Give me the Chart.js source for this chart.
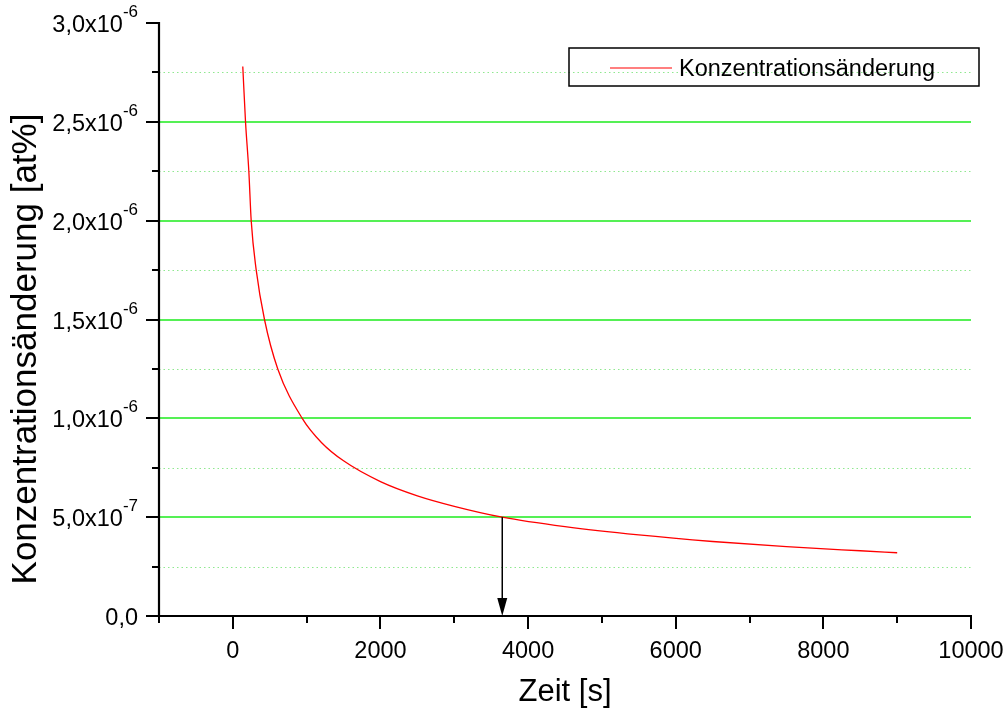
<!DOCTYPE html>
<html>
<head>
<meta charset="utf-8">
<script src="https://cdn.jsdelivr.net/npm/chart.js@4/dist/chart.umd.min.js"></script>
<style>
  html, body { margin: 0; padding: 0; background: #fff; }
  #wrap { width: 1005px; height: 711px; position: relative; }
</style>
</head>
<body>
<div id="wrap"><canvas id="chart"></canvas></div>
<script>
// -------------------------
// Data
// -------------------------
const SERIES_LABEL = "Konzentrationsänderung";
const Y_TITLE = "Konzentrationsänderung [at%]";
const zeit = [135, 172, 217, 249, 317, 429, 609, 940, 1200, 1500, 2000, 2500, 3000, 3650, 4500, 5500, 6500, 7500, 8500, 9000];
const konz = [2.78e-6, 2.50e-6, 2.25e-6, 2.00e-6, 1.75e-6, 1.50e-6, 1.25e-6, 1.00e-6, 0.878e-6, 0.785e-6,
              0.680e-6, 0.608e-6, 0.555e-6, 0.500e-6, 0.452e-6, 0.410e-6, 0.377e-6, 0.351e-6, 0.330e-6, 0.320e-6];

const xMajor = [0, 2000, 4000, 6000, 8000, 10000];
const xMinor = [-1000, 1000, 3000, 5000, 7000, 9000];
const yMajor = [0, 5e-7, 1e-6, 1.5e-6, 2e-6, 2.5e-6, 3e-6];
const yMinor = [2.5e-7, 7.5e-7, 1.25e-6, 1.75e-6, 2.25e-6, 2.75e-6];

// arrow marking the 5,0x10^-7 crossing
const arrowX = 3650;
const arrowFrom = 5e-7;
const arrowTo = 0;

// -------------------------
// Styles
// -------------------------
const FONT = '"Liberation Sans", Arial, sans-serif';
const GRID_MAJOR = "#55f055";
const GRID_MINOR = "#8fe88f";

function yLabelParts(v) {
  if (v === 0) return { base: "0,0", exp: "" };
  const e = Math.floor(Math.log10(v) + 1e-9);
  const m = (v / Math.pow(10, e)).toFixed(1).replace(".", ",");
  return { base: m + "x10", exp: String(e) };
}

const axesPlugin = {
  id: "originAxes",
  beforeDatasetsDraw(chart) {
    const { ctx, chartArea: a, scales: { y } } = chart;
    ctx.save();
    // minor dotted grid
    ctx.strokeStyle = GRID_MINOR;
    ctx.lineWidth = 1;
    ctx.setLineDash([1.5, 3]);
    yMinor.forEach(v => {
      const py = Math.round(y.getPixelForValue(v)) + 0.5;
      ctx.beginPath(); ctx.moveTo(a.left, py); ctx.lineTo(a.right, py); ctx.stroke();
    });
    // major solid grid
    ctx.setLineDash([]);
    ctx.strokeStyle = GRID_MAJOR;
    ctx.lineWidth = 2;
    yMajor.forEach(v => {
      if (v === 0 || v === 3e-6) return;
      const py = Math.round(y.getPixelForValue(v));
      ctx.beginPath(); ctx.moveTo(a.left, py); ctx.lineTo(a.right, py); ctx.stroke();
    });
    ctx.restore();
  },
  afterDatasetsDraw(chart) {
    const { ctx, chartArea: a, scales: { x, y } } = chart;
    ctx.save();
    ctx.strokeStyle = "#000";
    ctx.fillStyle = "#000";

    // arrow
    const ax = x.getPixelForValue(arrowX);
    const ay0 = y.getPixelForValue(arrowFrom);
    const ay1 = y.getPixelForValue(arrowTo);
    ctx.lineWidth = 1.5;
    ctx.beginPath(); ctx.moveTo(ax, ay0); ctx.lineTo(ax, ay1 - 16); ctx.stroke();
    ctx.beginPath();
    ctx.moveTo(ax - 5, ay1 - 18); ctx.lineTo(ax + 5, ay1 - 18); ctx.lineTo(ax, ay1);
    ctx.closePath(); ctx.fill();

    // axis lines
    ctx.lineWidth = 2.2;
    const bx = Math.round(x.getPixelForValue(-1000));
    const by = Math.round(y.getPixelForValue(0));
    ctx.beginPath();
    ctx.moveTo(bx, y.getPixelForValue(3e-6) - 1);
    ctx.lineTo(bx, by);
    ctx.lineTo(x.getPixelForValue(10000) + 1, by);
    ctx.stroke();

    // ticks
    ctx.lineWidth = 2;
    yMajor.forEach(v => {
      const py = Math.round(y.getPixelForValue(v));
      ctx.beginPath(); ctx.moveTo(bx - 13, py); ctx.lineTo(bx, py); ctx.stroke();
    });
    yMinor.forEach(v => {
      const py = Math.round(y.getPixelForValue(v));
      ctx.beginPath(); ctx.moveTo(bx - 7, py); ctx.lineTo(bx, py); ctx.stroke();
    });
    xMajor.forEach(v => {
      const px = Math.round(x.getPixelForValue(v));
      ctx.beginPath(); ctx.moveTo(px, by); ctx.lineTo(px, by + 13); ctx.stroke();
    });
    xMinor.forEach(v => {
      const px = Math.round(x.getPixelForValue(v));
      ctx.beginPath(); ctx.moveTo(px, by); ctx.lineTo(px, by + 7); ctx.stroke();
    });

    // y tick labels with superscript exponent
    const mainFont = "23.5px " + FONT;
    const supFont = "17px " + FONT;
    ctx.textBaseline = "alphabetic";
    ctx.textAlign = "left";
    yMajor.forEach(v => {
      const py = y.getPixelForValue(v);
      const p = yLabelParts(v);
      ctx.font = mainFont;
      const wb = ctx.measureText(p.base).width;
      ctx.font = supFont;
      const we = p.exp ? ctx.measureText(p.exp).width : 0;
      const right = bx - 21;
      const left = right - wb - we;
      ctx.font = mainFont;
      ctx.fillText(p.base, left, py + 9);
      if (p.exp) {
        ctx.font = supFont;
        ctx.fillText(p.exp, left + wb, py - 6);
      }
    });

    // y axis title (rotated)
    ctx.save();
    ctx.translate(36, 349);
    ctx.rotate(-Math.PI / 2);
    ctx.font = "35px " + FONT;
    ctx.textAlign = "center";
    ctx.textBaseline = "alphabetic";
    ctx.fillText(Y_TITLE, 0, 0);
    ctx.restore();

    // legend
    const lx = 569, ly = 48, lw = 410, lh = 38;
    ctx.lineWidth = 1.5;
    ctx.strokeStyle = "#000";
    ctx.strokeRect(lx, ly, lw, lh);
    const ds = chart.data.datasets[0];
    ctx.strokeStyle = ds.borderColor;
    ctx.lineWidth = 1.2;
    ctx.beginPath(); ctx.moveTo(lx + 41, ly + 20); ctx.lineTo(lx + 103, ly + 20); ctx.stroke();
    ctx.fillStyle = "#000";
    ctx.font = "23.5px " + FONT;
    ctx.textAlign = "left";
    ctx.fillText(ds.label, lx + 110, ly + 28);

    ctx.restore();
  }
};

const ctx = document.getElementById("chart").getContext("2d");
new Chart(ctx, {
  type: "line",
  data: {
    datasets: [{
      label: SERIES_LABEL,
      data: zeit.map((t, i) => ({ x: t, y: konz[i] })),
      borderColor: "#ff0000",
      borderWidth: 1.3,
      pointRadius: 0,
      fill: false,
      cubicInterpolationMode: "monotone"
    }]
  },
  options: {
    responsive: true,
    maintainAspectRatio: false,
    animation: false,
    devicePixelRatio: 1,
    layout: { padding: { top: 23, right: 34, left: 0, bottom: 0 } },
    plugins: {
      legend: { display: false },
      tooltip: { enabled: false }
    },
    scales: {
      x: {
        type: "linear",
        min: -1000,
        max: 10000,
        afterBuildTicks: s => { s.ticks = xMajor.map(v => ({ value: v })); },
        afterFit: s => { s.height = 95; s.paddingLeft = 0; s.paddingRight = 0; },
        grid: { display: true, drawOnChartArea: false, drawTicks: true, tickLength: 13, color: "rgba(0,0,0,0)" },
        border: { display: false },
        ticks: {
          color: "#000",
          font: { family: FONT, size: 23.5 },
          padding: 8,
          maxRotation: 0,
          autoSkip: false,
          callback: v => String(v)
        },
        title: {
          display: true,
          text: "Zeit [s]",
          color: "#000",
          font: { family: FONT, size: 31 },
          padding: { top: 0, bottom: 0 }
        }
      },
      y: {
        type: "linear",
        min: 0,
        max: 3e-6,
        afterFit: s => { s.width = 159; s.paddingTop = 0; s.paddingBottom = 0; },
        grid: { display: false },
        border: { display: false },
        ticks: { display: false },
        title: { display: false }
      }
    }
  },
  plugins: [axesPlugin]
});
</script>
</body>
</html>
